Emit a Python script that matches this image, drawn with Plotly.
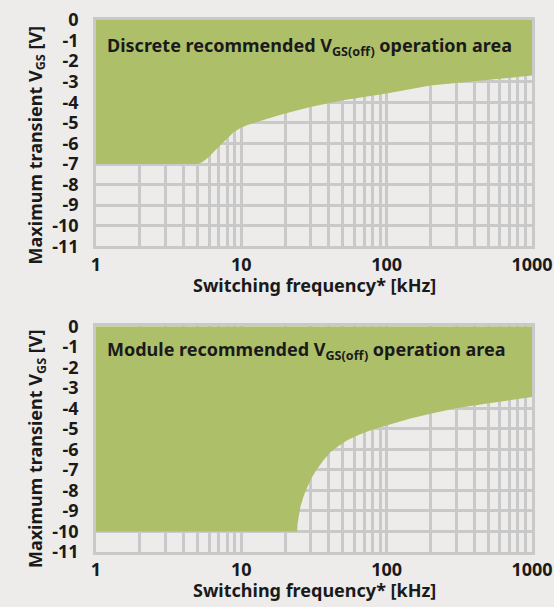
import plotly.graph_objects as go
from plotly.subplots import make_subplots

# ---- data ----
discrete_freq = [1, 5.07, 5.5, 6.0, 6.44, 7.0, 7.55, 8.2, 8.85, 9.8, 10.9, 12.5, 14.3, 18.6, 24, 29.9, 50, 100, 200, 500, 1000]
discrete_v = [-7, -7, -6.86, -6.65, -6.42, -6.17, -5.93, -5.68, -5.45, -5.26, -5.12, -4.98, -4.85, -4.60, -4.4, -4.23, -3.9, -3.57, -3.18, -2.9, -2.7]

module_freq = [1, 24.2, 24.4, 24.8, 25.5, 26.8, 28.4, 30.7, 33.3, 37, 41.1, 47, 53.6, 64, 77.6, 101, 146, 200, 300, 492, 1000]
module_v = [-10, -10, -9.6, -9.2, -8.8, -8.3, -7.84, -7.35, -6.94, -6.5, -6.13, -5.82, -5.56, -5.3, -5.07, -4.83, -4.5, -4.26, -4.0, -3.77, -3.45]

x_decades = [1, 10, 100, 1000]
x_decade_labels = ["1", "10", "100", "1000"]
y_ticks = [0, -1, -2, -3, -4, -5, -6, -7, -8, -9, -10, -11]
y_tick_labels = ["0", "-1", "-2", "-3", "-4", "-5", "-6", "-7", "-8", "-9", "-10", "-11"]

titles = ["Discrete recommended V<sub>GS(off)</sub> operation area",
          "Module recommended V<sub>GS(off)</sub> operation area"]
x_title = "Switching frequency* [kHz]"
y_title = "Maximum transient V<sub>GS</sub> [V]"

GREEN = "#AEBF6A"
BG = "#EDECEA"
GRID = "#C9C9C9"
TXT = "#1A1A1A"
FONT = "Noto Sans"

fig = make_subplots(rows=2, cols=1, vertical_spacing=0.15)

series = [(discrete_freq, discrete_v), (module_freq, module_v)]
for i, (fx, vy) in enumerate(series, start=1):
    fig.add_trace(go.Scatter(x=[fx[0], fx[-1]], y=[0, 0], mode="lines",
                             line=dict(width=0, color=GREEN), hoverinfo="skip",
                             showlegend=False), row=i, col=1)
    fig.add_trace(go.Scatter(x=fx, y=vy, mode="lines", fill="tonexty",
                             fillcolor=GREEN,
                             line=dict(width=0, color=GREEN),
                             showlegend=False), row=i, col=1)

axis_font = dict(family=FONT, size=18, color=TXT, weight="bold")
for i in (1, 2):
    fig.update_xaxes(type="log", range=[0, 3], tickvals=x_decades, ticktext=x_decade_labels,
                     showgrid=True, gridcolor=GRID, gridwidth=2.5,
                     minor=dict(dtick="D1", showgrid=True, gridcolor=GRID, gridwidth=2.5, ticks=""),
                     showline=True, mirror=True, linecolor=GRID, linewidth=2.5,
                     ticks="outside", ticklen=0, tickcolor="rgba(0,0,0,0)",
                     tickfont=axis_font, zeroline=False, automargin=False,
                     row=i, col=1)
    fig.update_yaxes(range=[-11, 0], tickvals=y_ticks, ticktext=y_tick_labels,
                     showgrid=True, gridcolor=GRID, gridwidth=2.5,
                     showline=True, mirror=True, linecolor=GRID, linewidth=2.5,
                     ticks="outside", ticklen=11, tickcolor="rgba(0,0,0,0)",
                     tickfont=axis_font, zeroline=False, automargin=False,
                     row=i, col=1)

fig.update_layout(
    width=554, height=607,
    margin=dict(l=96, r=22, t=20, b=55, autoexpand=False),
    paper_bgcolor=BG, plot_bgcolor=BG,
    font=dict(family=FONT, color=TXT),
)
fig.update_layout(yaxis=dict(domain=[0.5746, 1.0]), yaxis2=dict(domain=[0.0, 0.4244]))

title_font = dict(family=FONT, size=18, color=TXT, weight="bold")
fig.add_annotation(text=titles[0], xref="x domain", yref="y domain", x=0.02, y=0.883,
                   xanchor="left", yanchor="middle", showarrow=False, font=title_font)
fig.add_annotation(text=titles[1], xref="x2 domain", yref="y2 domain", x=0.02, y=0.894,
                   xanchor="left", yanchor="middle", showarrow=False, font=title_font)

# axis titles
for xr, yr, yx, yy in (("x domain", "y domain", -0.172, 0.446),
                       ("x2 domain", "y2 domain", -0.168, 0.456)):
    fig.add_annotation(text=x_title, xref=xr, yref=yr, x=0.5, y=yx,
                       xanchor="center", yanchor="middle", showarrow=False, font=title_font)
    fig.add_annotation(text=y_title, xref=xr, yref=yr, x=-0.1376, y=yy, textangle=-90,
                       xanchor="center", yanchor="middle", showarrow=False, font=title_font)

fig.write_html("out.html", config={"displayModeBar": False},
               post_script="document.body.style.margin='0';document.body.style.overflow='hidden';")
